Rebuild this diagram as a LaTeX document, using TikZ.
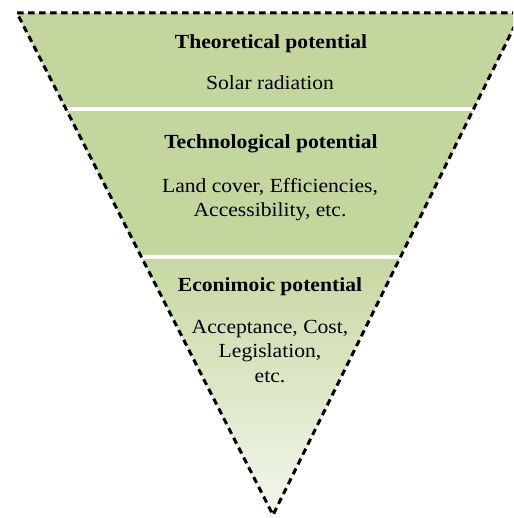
\documentclass[tikz,border=0pt]{standalone}
\usepackage{fontspec}
\setmainfont[FakeStretch=1.08]{Liberation Serif}
\definecolor{potgreen}{RGB}{195,214,157}
\definecolor{potpale}{RGB}{243,246,236}
\begin{document}
\begin{tikzpicture}[x=1pt,y=-1pt,
  head/.style={font=\fontsize{20}{24}\selectfont\bfseries,anchor=base},
  body/.style={font=\fontsize{20}{24.5}\selectfont,align=center,anchor=base}]
\clip(0,0) rectangle(513,518);
\fill[fill=potgreen](17,13)--(521,13)--(400.5,257)--(141.4,257)--cycle;
\shade[top color=potgreen!95!white,bottom color=potpale](141.4,257)--(400.5,257)--(273,515)--cycle;
\draw[white,line width=4pt](66,109)--(473.6,109);
\draw[white,line width=4pt](141.4,257)--(400.5,257);
\draw[line width=3pt,dash pattern=on 6.5pt off 4.5pt](17,13)--(521,13)--(273,515)--cycle;
\node[head](theo) at (271,49){Theoretical potential};
\node[body](theosub) at (270,90){Solar radiation};
\node[head](tech) at (271,149){Technological potential};
\node[body](techsub) at (270,217){Land cover, Efficiencies,\\Accessibility, etc.};
\node[head](econ) at (270,291){Econimoic potential};
\node[body](econsub) at (270,382){Acceptance, Cost,\\Legislation,\\etc.};
\end{tikzpicture}
\end{document}
